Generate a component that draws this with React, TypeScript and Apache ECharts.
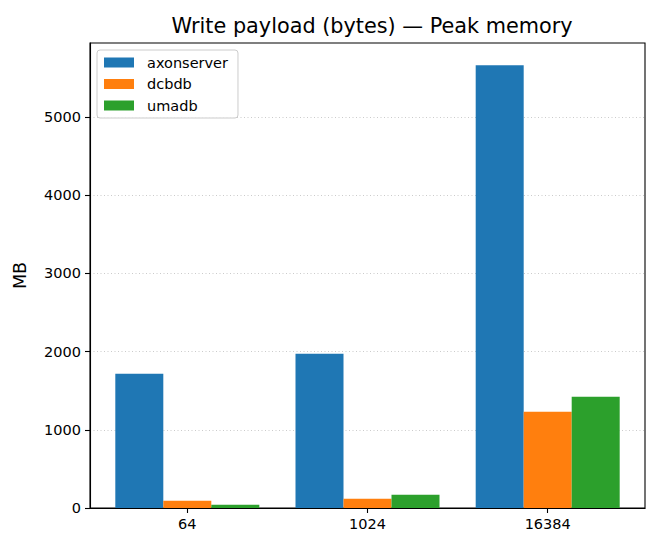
import React, { useEffect, useRef } from "react";
import * as echarts from "echarts";

const CATEGORIES = ["64", "1024", "16384"];
const SERIES_NAMES = ["axonserver", "dcbdb", "umadb"];
const AXONSERVER = [1715, 1971, 5662];
const DCBDB = [93, 119, 1230];
const UMADB = [42, 170, 1422];
const COLORS = ["#1f77b4", "#ff7f0e", "#2ca02c"];
const Y_TICKS = [0, 1000, 2000, 3000, 4000, 5000];

const FONT = "DejaVu Sans";

export default function App() {
  const ref = useRef<HTMLDivElement>(null);

  useEffect(() => {
    document.body.style.margin = "0";
    if (!ref.current) return;
    const chart = echarts.init(ref.current, undefined, { renderer: "svg" });
    const values = [AXONSERVER, DCBDB, UMADB];
    const xIdx = CATEGORIES.map((_, i) => i);
    chart.setOption({
      animation: false,
      backgroundColor: "#ffffff",
      textStyle: { fontFamily: FONT },
      title: {
        text: "Write payload (bytes) — Peak memory",
        left: 367,
        top: 10,
        textAlign: "center",
        textStyle: { fontFamily: FONT, fontSize: 20.8, fontWeight: "normal", color: "#000" },
      },
      legend: {
        orient: "vertical",
        left: 97,
        top: 50,
        padding: [5, 10, 5, 7],
        itemWidth: 30,
        itemHeight: 10,
        itemGap: 6.5,
        icon: "rect",
        borderColor: "#cccccc",
        borderWidth: 1,
        borderRadius: 3,
        backgroundColor: "rgba(255,255,255,0.8)",
        textStyle: { fontFamily: FONT, fontSize: 14.5, color: "#000", padding: [0, 0, 0, 8], lineHeight: 14 },
        data: SERIES_NAMES,
      },
      grid: {
        left: 90,
        right: 15,
        top: 43,
        bottom: 42,
        show: true,
        borderColor: "#000",
        borderWidth: 1.1,
        backgroundColor: "transparent",
      },
      xAxis: {
        type: "value",
        min: -0.54,
        max: 2.54,
        axisLine: { show: true, onZero: false, lineStyle: { color: "#000", width: 1.1 } },
        axisTick: { show: true, length: 5, customValues: xIdx, lineStyle: { color: "#000", width: 1.1 } },
        axisLabel: {
          customValues: xIdx,
          margin: 8,
          fontFamily: FONT,
          fontSize: 14.5,
          color: "#000",
          formatter: (v: number) => CATEGORIES[Math.round(v)] ?? "",
        },
        splitLine: { show: false },
      },
      yAxis: {
        type: "value",
        min: 0,
        max: 5945,
        interval: 1000,
        name: "MB",
        nameLocation: "middle",
        nameGap: 61,
        nameTextStyle: { fontFamily: FONT, fontSize: 17.5, color: "#000" },
        axisLine: { show: true, onZero: false, lineStyle: { color: "#000", width: 1.1 } },
        axisTick: { show: true, length: 5, customValues: Y_TICKS, lineStyle: { color: "#000", width: 1.1 } },
        axisLabel: {
          customValues: Y_TICKS,
          margin: 9,
          fontFamily: FONT,
          fontSize: 14.5,
          color: "#000",
          formatter: (v: number) => String(Math.round(v)),
        },
        splitLine: { show: true, lineStyle: { color: "rgba(160,160,160,0.55)", type: [1, 2.5], width: 1 } },
      },
      series: SERIES_NAMES.map((name, s) => ({
        name,
        type: "bar",
        barWidth: 48,
        barGap: "0%",
        itemStyle: { color: COLORS[s] },
        data: values[s].map((v, i) => [i, v]),
      })),
    });
    return () => chart.dispose();
  }, []);

  return <div ref={ref} style={{ width: 660, height: 550 }} />;
}
